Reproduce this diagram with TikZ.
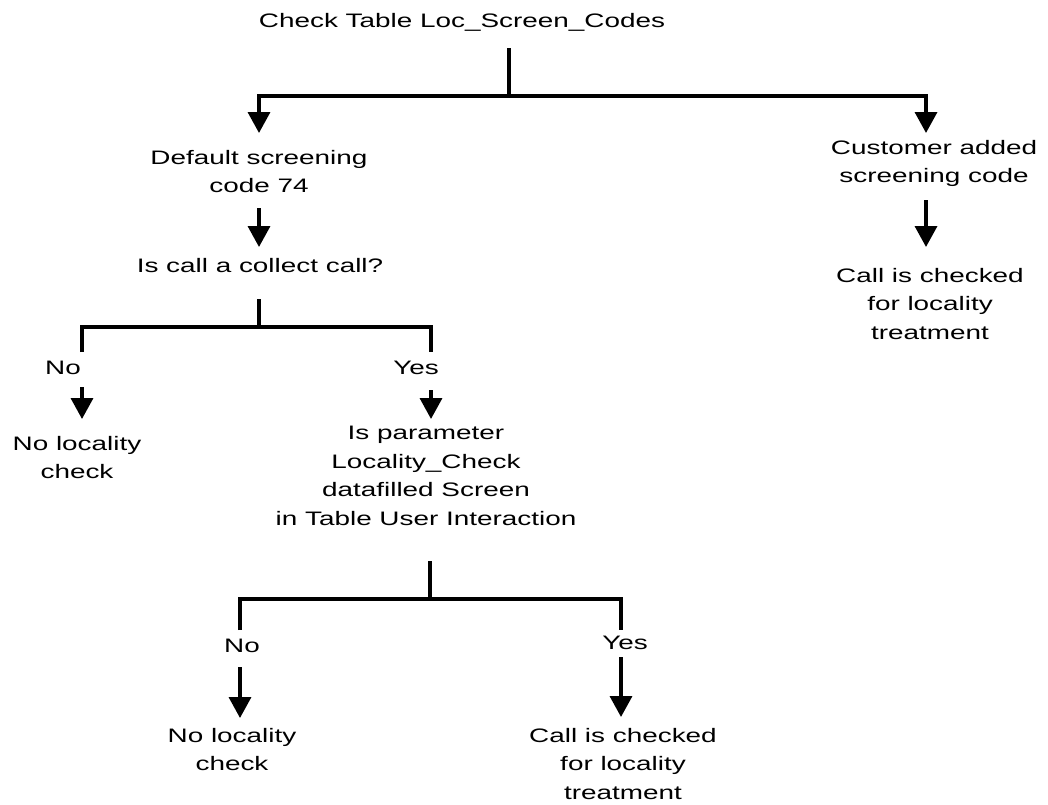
\documentclass[tikz,border=0pt]{standalone}
\usepackage{fontspec}
\setmainfont[FakeStretch=1.43]{Liberation Sans}
\usetikzlibrary{arrows.meta}
\begin{document}
\begin{tikzpicture}[x=1pt,y=-1pt,
  lbl/.style={font=\fontsize{19.5}{28.5}\selectfont, align=center, inner sep=0pt, anchor=north},
  conn/.style={line width=3.5pt, line join=miter},
  arr/.style={line width=3.5pt, -{Triangle[width=22pt,length=21pt]}},
  arrtwo/.style={line width=3.5pt, line join=miter, {Triangle[width=22pt,length=21pt]}-{Triangle[width=22pt,length=21pt]}}]
\useasboundingbox (0,0) rectangle (1048,804);
% labels
\node[lbl] (title) at (462,13) {Check Table Loc\_Screen\_Codes};
\node[lbl] (def) at (259,150) {Default screening\\code 74};
\node[lbl] (cust) at (934,140) {Customer added\\screening code};
\node[lbl] (chkA) at (930,268) {Call is checked\\for locality\\treatment};
\node[lbl] (coll) at (260,258) {Is call a collect call?};
\node[lbl] (noA) at (63,361) {No};
\node[lbl] (yesA) at (416,361) {Yes};
\node[lbl] (nlcA) at (77,436) {No locality\\check};
\node[lbl] (param) at (426,426) {Is parameter\\Locality\_Check\\datafilled Screen\\in Table User Interaction};
\node[lbl] (noB) at (242,639) {No};
\node[lbl] (yesB) at (625,636) {Yes};
\node[lbl] (nlcB) at (232,728) {No locality\\check};
\node[lbl] (chkB) at (623,728) {Call is checked\\for locality\\treatment};
% junction coordinates
\coordinate (s1a) at (509,48);  \coordinate (s1b) at (509,96);
\coordinate (l1a) at (259,133); \coordinate (l1b) at (259,96);
\coordinate (r1b) at (926,96);  \coordinate (r1a) at (926,133);
\coordinate (d1a) at (259,208); \coordinate (d1b) at (259,247);
\coordinate (c1a) at (926,200); \coordinate (c1b) at (926,247);
\coordinate (s2a) at (259,299); \coordinate (s2b) at (259,327);
\coordinate (l2a) at (82,352);  \coordinate (l2b) at (82,327);
\coordinate (r2b) at (431,327); \coordinate (r2a) at (431,352);
\coordinate (n2a) at (82,387);  \coordinate (n2b) at (82,419);
\coordinate (y2a) at (431,390); \coordinate (y2b) at (431,419);
\coordinate (s3a) at (430,561); \coordinate (s3b) at (430,599);
\coordinate (l3a) at (240,630); \coordinate (l3b) at (240,599);
\coordinate (r3b) at (621,599); \coordinate (r3a) at (621,630);
\coordinate (n3a) at (240,667); \coordinate (n3b) at (240,718);
\coordinate (y3a) at (621,657); \coordinate (y3b) at (621,717);
% connectors
\draw[conn] (s1a) -- (s1b);
\draw[arrtwo] (l1a) -- (l1b) -- (r1b) -- (r1a);
\draw[arr] (d1a) -- (d1b);
\draw[arr] (c1a) -- (c1b);
\draw[conn] (s2a) -- (s2b);
\draw[conn] (l2a) -- (l2b) -- (r2b) -- (r2a);
\draw[arr] (n2a) -- (n2b);
\draw[arr] (y2a) -- (y2b);
\draw[conn] (s3a) -- (s3b);
\draw[conn] (l3a) -- (l3b) -- (r3b) -- (r3a);
\draw[arr] (n3a) -- (n3b);
\draw[arr] (y3a) -- (y3b);
\end{tikzpicture}
\end{document}
